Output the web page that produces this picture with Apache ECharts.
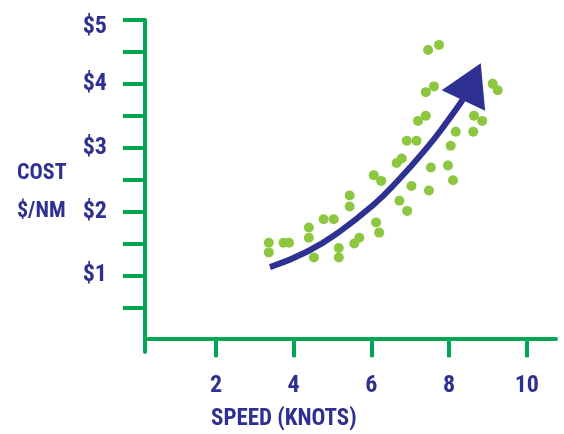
<!DOCTYPE html>
<html>
<head>
<meta charset="utf-8">
<script src="https://cdn.jsdelivr.net/npm/echarts@6/dist/echarts.min.js"></script>
<style>
html,body{margin:0;padding:0;background:#fff;}
#chart{width:564px;height:434px;}
</style>
</head>
<body>
<div id="chart"></div>
<script>
// Scatter data: speed (knots) and cost ($/NM)
const speedValues = [3.36,3.36,3.74,3.88,4.39,4.39,4.52,4.77,5.03,5.16,5.16,5.44,5.44,5.56,5.69,6.06,6.25,6.12,6.20,6.65,6.78,6.72,6.92,7.03,6.91,7.16,7.48,7.53,7.97,8.10,8.04,7.20,7.40,8.17,8.62,8.64,8.85,7.40,7.61,9.12,9.25,7.46,7.74];
const costValues  = [1.51,1.36,1.51,1.51,1.75,1.59,1.28,1.88,1.88,1.43,1.28,2.25,2.08,1.50,1.59,2.57,2.48,1.83,1.67,2.76,2.83,2.17,2.01,2.40,3.11,3.11,2.33,2.69,2.72,2.49,3.03,3.42,3.50,3.25,3.25,3.50,3.42,3.87,3.96,4.00,3.90,4.53,4.61];
// Trend arrow path
const trendX = [3.39,4.34,5.19,6.04,6.66,7.43,7.94,8.35];
const trendY = [1.13,1.37,1.69,2.10,2.47,3.00,3.40,3.75];
const arrowHead = [8.59, 4.03];
// Axis ticks and labels
const xLabelValues = [2,4,6,8,10];
const yLabelValues = [1,2,3,4,5];
const yTickValues = [0.5,1,1.5,2,2.5,3,3.5,4,4.5,5];
const yLabelText = ['$1','$2','$3','$4','$5'];

const GREEN = '#00a651';
const NAVY = '#2e3192';
const DOT = '#8dc63f';
const FONT = '"Roboto Condensed","Liberation Sans Narrow","DejaVu Sans Condensed",sans-serif';

const chart = echarts.init(document.getElementById('chart'));
chart.setOption({
  animation: false,
  grid: {left: 145, top: 20, right: 8, bottom: 82},
  xAxis: {
    type: 'value', min: 0.174, max: 10.75,
    splitLine: {show: false},
    axisLine: {show: true, lineStyle: {color: GREEN, width: 4}},
    axisTick: {show: true, length: 18, lineStyle: {color: GREEN, width: 4}, customValues: xLabelValues},
    axisLabel: {customValues: xLabelValues, color: NAVY, fontFamily: FONT, fontWeight: 'bold', fontSize: 24, margin: 22}
  },
  yAxis: {
    type: 'value', min: -0.2, max: 5,
    splitLine: {show: false},
    axisLine: {show: true, lineStyle: {color: GREEN, width: 4}},
    axisTick: {show: true, length: 22, lineStyle: {color: GREEN, width: 4}, customValues: yTickValues},
    axisLabel: {customValues: yLabelValues, color: NAVY, fontFamily: FONT, fontWeight: 'bold', fontSize: 24, margin: 38,
      formatter: function (v) {
        const t = yLabelText[yLabelValues.indexOf(v)] || '';
        return v === 5 ? '{top|' + t + '}' : t;
      },
      rich: {top: {color: NAVY, fontFamily: FONT, fontWeight: 'bold', fontSize: 24, padding: [14, 0, 0, 0]}}
    }
  },
  graphic: [
    {type: 'text', left: 17, top: 154, style: {text: 'COST\n$/NM', fill: NAVY, font: 'bold 22px ' + FONT, lineHeight: 38}},
    {type: 'text', left: 211, top: 408, style: {text: 'SPEED (KNOTS)', fill: NAVY, font: 'bold 23px ' + FONT}}
  ],
  series: [
    {
      type: 'scatter',
      data: speedValues.map((x, i) => [x, costValues[i]]),
      symbolSize: 10,
      itemStyle: {color: DOT, opacity: 1}
    },
    {
      type: 'line',
      data: trendX.map((x, i) => [x, trendY[i]]),
      smooth: true,
      showSymbol: false,
      lineStyle: {color: NAVY, width: 6},
      z: 3
    },
    {
      type: 'scatter',
      data: [arrowHead],
      symbol: 'triangle',
      symbolSize: [48, 41],
      symbolRotate: -25,
      itemStyle: {color: NAVY, opacity: 1},
      z: 4
    }
  ]
});
</script>
</body>
</html>
